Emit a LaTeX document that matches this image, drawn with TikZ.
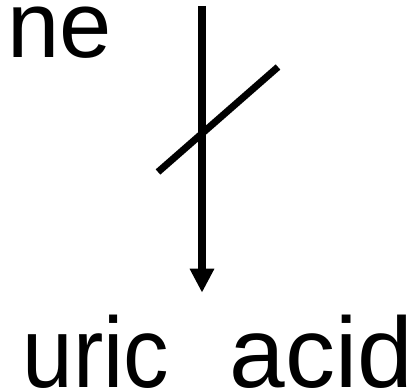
\documentclass[tikz,border=0pt]{standalone}
\usepackage{fontspec}
\setmainfont{Liberation Sans}
\newfontfamily\lblfont{Liberation Sans}
\newfontfamily\narrowfont[FakeStretch=0.91]{Liberation Sans}
\usetikzlibrary{arrows.meta}
\tikzset{
  lbl/.style={inner sep=0pt, anchor=base west, font=\lblfont\fontsize{#1}{#1}\selectfont},
  mainarrow/.style={line width=7.5pt, -{Triangle[width=23pt,length=24pt]}},
  slash/.style={line width=7pt}
}
\begin{document}
\begin{tikzpicture}[x=1pt,y=1pt]
\useasboundingbox (0,0) rectangle (417,391);
\node[lbl=94] (ne) at (6.8,333.7) {ne};
\node[lbl=100] (uric) at (22.4,3.5) {{\narrowfont uric}\hspace{60.7pt}acid};
\coordinate (top) at (202,385);
\coordinate (tip) at (202,98.3);
\coordinate (s1) at (158,219);
\coordinate (s2) at (278,324);
\draw[mainarrow] (top) -- (tip);
\draw[slash] (s1) -- (s2);
\end{tikzpicture}
\end{document}
